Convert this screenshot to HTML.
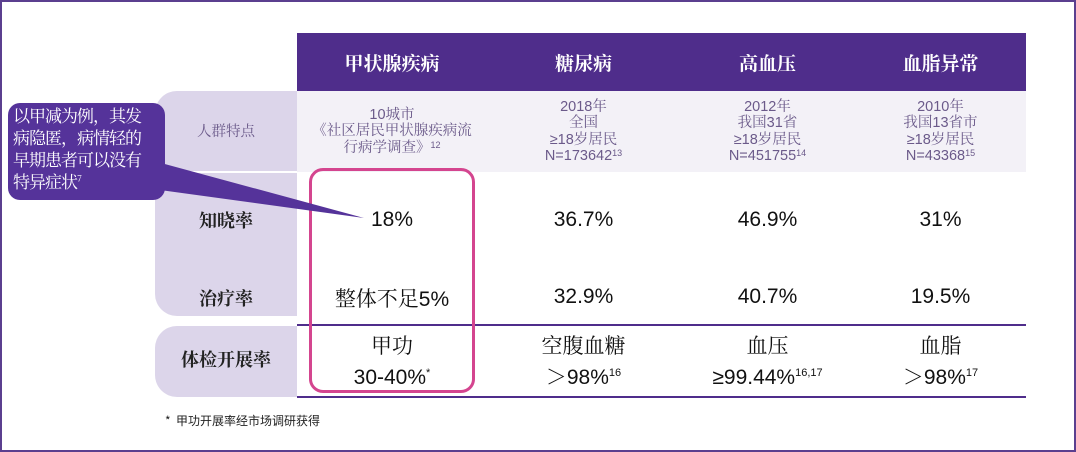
<!DOCTYPE html>
<html><head><meta charset="utf-8"><style>
body{margin:0;width:1076px;height:452px;background:#fff;position:relative;overflow:hidden;font-family:"Liberation Sans","Noto Serif CJK SC",serif;}
.a{position:absolute;}
.frame{left:0;top:0;width:1072px;height:448px;border:2px solid #5b3f8f;}
.hd{top:33px;height:58px;background:#4f2d8b;color:#fff;font-family:"Noto Serif CJK SC",serif;font-weight:bold;font-size:19px;display:flex;align-items:center;justify-content:center;}
.pop{top:91px;height:81px;background:#f3f1f7;color:#6b5a8a;font-size:14.5px;line-height:16.5px;text-align:center;display:flex;flex-direction:column;justify-content:center;}
.pop sup{font-size:9px;vertical-align:4px;line-height:0}
.v{font-size:21px;color:#111;text-align:center;}
.lab{font-family:"Noto Serif CJK SC",serif;font-weight:bold;font-size:18px;color:#222;text-align:center;}
</style></head><body>
<div class="a frame"></div>
<div class="a" style="left:155px;top:91px;width:142px;height:225px;background:#dcd5ea;border-radius:22px 0 0 22px"></div>
<div class="a" style="left:155px;top:326px;width:142px;height:71px;background:#dcd5ea;border-radius:22px 0 0 22px"></div>
<div class="a" style="left:155px;top:171px;width:142px;height:2px;background:#fff"></div>

<div class="a hd" style="left:297px;width:190px">甲状腺疾病</div>
<div class="a hd" style="left:487px;width:193px">糖尿病</div>
<div class="a hd" style="left:680px;width:175px">高血压</div>
<div class="a hd" style="left:855px;width:171px">血脂异常</div>

<div class="a pop" style="left:155px;width:142px;background:none;font-family:'Noto Serif CJK SC',serif">人群特点</div>
<div class="a pop" style="left:297px;width:190px"><div>10城市</div><div>《社区居民甲状腺疾病流</div><div>行病学调查》<sup>12</sup></div></div>
<div class="a pop" style="left:487px;width:193px"><div>2018年</div><div>全国</div><div>≥18岁居民</div><div>N=173642<sup>13</sup></div></div>
<div class="a pop" style="left:680px;width:175px"><div>2012年</div><div>我国31省</div><div>≥18岁居民</div><div>N=451755<sup>14</sup></div></div>
<div class="a pop" style="left:855px;width:171px"><div>2010年</div><div>我国13省市</div><div>≥18岁居民</div><div>N=43368<sup>15</sup></div></div>

<div class="a lab" style="left:155px;top:207px;width:142px">知晓率</div>
<div class="a lab" style="left:155px;top:285px;width:142px">治疗率</div>
<div class="a lab" style="left:155px;top:346px;width:142px">体检开展率</div>

<div class="a v" style="left:297px;top:208px;width:190px">18%</div>
<div class="a v" style="left:487px;top:208px;width:193px">36.7%</div>
<div class="a v" style="left:680px;top:208px;width:175px">46.9%</div>
<div class="a v" style="left:855px;top:208px;width:171px">31%</div>
<div class="a v" style="left:297px;top:283px;width:190px">整体不足5%</div>
<div class="a v" style="left:487px;top:285px;width:193px">32.9%</div>
<div class="a v" style="left:680px;top:285px;width:175px">40.7%</div>
<div class="a v" style="left:855px;top:285px;width:171px">19.5%</div>

<div class="a" style="left:297px;top:324px;width:729px;height:2px;background:#4f2d8b"></div>
<div class="a" style="left:297px;top:396px;width:729px;height:2px;background:#4f2d8b"></div>

<div class="a v" style="left:297px;top:333px;width:190px;line-height:27px">甲功<br>30-40%<sup style="font-size:11px">*</sup></div>
<div class="a v" style="left:487px;top:333px;width:193px;line-height:27px">空腹血糖<br>＞98%<sup style="font-size:11px">16</sup></div>
<div class="a v" style="left:680px;top:333px;width:175px;line-height:27px">血压<br>≥99.44%<sup style="font-size:11px">16,17</sup></div>
<div class="a v" style="left:855px;top:333px;width:171px;line-height:27px">血脂<br>＞98%<sup style="font-size:11px">17</sup></div>

<div class="a" style="left:309px;top:168px;width:160px;height:219px;border:3px solid #d4458f;border-radius:14px"></div>

<svg class="a" style="left:0;top:0" width="400" height="240"><polygon points="150,160 160,190 364,218" fill="#55339a"/></svg>
<div class="a" style="left:8px;top:103px;width:157px;height:97px;padding:1px 0 0 5px;box-sizing:border-box;background:#55339a;border-radius:12px;color:#fff;font-family:'Noto Serif CJK SC',serif;font-size:17px;line-height:22px;white-space:nowrap;letter-spacing:-1px">以甲减为例，其发<br>病隐匿，病情轻的<br>早期患者可以没有<br>特异症状<sup style="font-size:9px;line-height:0">7</sup></div>

<div class="a" style="left:165px;top:412px;font-size:12px;color:#222;font-family:'Noto Sans CJK SC',sans-serif">*&nbsp; 甲功开展率经市场调研获得</div>
</body></html>
